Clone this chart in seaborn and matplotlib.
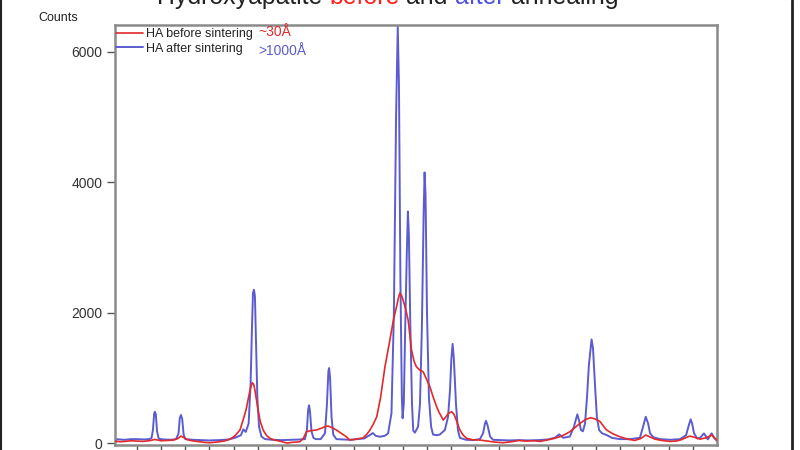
import matplotlib
matplotlib.use("Agg")
import matplotlib.pyplot as plt
from matplotlib.lines import Line2D
import pandas as pd
import seaborn as sns

# ---------------- data ----------------
series_names = ["HA before sintering", "HA after sintering"]
size_notes = ["~30Å", ">1000Å"]

before_theta = [20.09, 20.3, 20.5, 20.75, 21.0, 21.25, 21.5, 21.74, 22.0, 22.25, 22.5,
                22.7, 22.82, 22.95, 23.1, 23.35, 23.6, 23.8, 24.0, 24.3, 24.6, 24.85,
                25.05, 25.26, 25.39, 25.52, 25.62, 25.7, 25.77, 25.83, 25.88, 25.95,
                26.01, 26.1, 26.22, 26.35, 26.5, 26.7, 26.96, 27.1, 27.22, 27.4, 27.55,
                27.74, 27.88, 28.01, 28.2, 28.43, 28.65, 28.8, 28.91, 29.05, 29.25,
                29.45, 29.66, 29.81, 30.0, 30.2, 30.35, 30.5, 30.64, 30.78, 30.92,
                31.08, 31.26, 31.45, 31.61, 31.74, 31.82, 31.88, 31.95, 32.01, 32.1,
                32.22, 32.36, 32.46, 32.56, 32.7, 32.84, 32.98, 33.12, 33.26, 33.4,
                33.5, 33.6, 33.67, 33.78, 33.88, 34.02, 34.1, 34.16, 34.26, 34.36,
                34.5, 34.64, 34.9, 35.19, 35.5, 35.8, 36.14, 36.5, 36.8, 37.1, 37.4,
                37.7, 38.0, 38.25, 38.5, 38.7, 38.91, 39.1, 39.33, 39.55, 39.77, 39.95,
                40.16, 40.3, 40.43, 40.7, 40.98, 41.3, 41.6, 41.85, 42.05, 42.25,
                42.43, 42.7, 43.06, 43.3, 43.47, 43.7, 43.88, 44.05, 44.3, 44.55,
                44.78, 44.99]
before_counts = [30, 20, 25, 35, 30, 25, 35, 55, 35, 40, 45,
                 70, 107, 80, 50, 30, 20, 10, 5, 15, 30, 60,
                 110, 200, 350, 520, 710, 850, 925, 900, 812, 650,
                 506, 330, 200, 120, 72, 45, 25, 10, 0, 10, 15,
                 20, 70, 173, 190, 200, 230, 255, 260, 240, 200,
                 150, 97, 46, 55, 70, 77, 130, 200, 290, 403,
                 700, 1170, 1550, 1886, 2090, 2230, 2300, 2260, 2192, 2080,
                 1886, 1426, 1260, 1170, 1120, 1093, 980, 863, 700, 557,
                 470, 403, 352, 400, 455, 480, 450, 403, 300, 200,
                 120, 72, 50, 46, 30, 15, 5, 20, 40, 30, 35,
                 25, 50, 70, 97, 130, 173, 230, 300, 360, 388, 370,
                 330, 260, 200, 140, 97, 60, 40, 70, 123, 90,
                 60, 40, 25, 30, 45, 80, 107, 90, 60, 80,
                 123, 46]

after_theta = [20.09, 20.3, 20.5, 20.75, 21.0, 21.3, 21.5, 21.6, 21.66, 21.71, 21.74,
               21.78, 21.83, 21.9, 22.1, 22.4, 22.62, 22.72, 22.77, 22.82, 22.87,
               22.93, 23.0, 23.3, 23.6, 24.0, 24.4, 24.8, 25.05, 25.3, 25.4, 25.5,
               25.62, 25.7, 25.76, 25.8, 25.84, 25.88, 25.93, 25.98, 26.05, 26.15,
               26.3, 26.6, 27.0, 27.4, 27.8, 27.95, 28.03, 28.08, 28.12, 28.16,
               28.22, 28.3, 28.4, 28.6, 28.78, 28.86, 28.92, 28.95, 28.99, 29.05,
               29.12, 29.25, 29.5, 29.8, 30.1, 30.4, 30.64, 30.76, 30.88, 31.05,
               31.25, 31.39, 31.53, 31.63, 31.72, 31.79, 31.84, 31.9, 31.96, 31.99,
               32.04, 32.1, 32.17, 32.21, 32.25, 32.31, 32.38, 32.43, 32.5, 32.63,
               32.71, 32.79, 32.86, 32.9, 32.94, 33.0, 33.08, 33.17, 33.25, 33.4,
               33.53, 33.74, 33.87, 33.95, 34.01, 34.06, 34.11, 34.2, 34.28, 34.36,
               34.61, 34.9, 35.19, 35.32, 35.4, 35.44, 35.5, 35.61, 35.73, 36.02,
               36.4, 36.8, 37.2, 37.6, 38.0, 38.29, 38.47, 38.64, 38.91, 39.08,
               39.22, 39.29, 39.37, 39.45, 39.54, 39.62, 39.7, 39.81, 39.87, 39.95,
               40.03, 40.12, 40.24, 40.43, 40.65, 40.98, 41.4, 41.81, 41.94, 42.05,
               42.15, 42.23, 42.36, 42.64, 43.06, 43.47, 43.72, 43.84, 43.91, 43.97,
               44.05, 44.18, 44.3, 44.46, 44.62, 44.78, 44.88, 44.98]
after_counts = [60, 55, 50, 60, 60, 55, 60, 75, 200, 450, 480,
                440, 180, 65, 55, 50, 60, 150, 380, 430, 370,
                130, 60, 50, 45, 40, 45, 55, 80, 120, 210, 170,
                300, 900, 1800, 2300, 2350, 2250, 1500, 700, 250, 100,
                60, 50, 45, 50, 55, 60, 200, 500, 580, 480,
                180, 80, 60, 60, 150, 600, 1100, 1150, 1000, 400,
                130, 60, 55, 50, 60, 70, 123, 153, 110, 97,
                110, 148, 455, 1993, 5000, 6380, 5500, 2500, 700, 380,
                600, 1800, 3000, 3550, 3200, 1800, 600, 190, 160, 250,
                600, 1800, 3500, 4150, 3800, 2000, 700, 250, 130, 120,
                130, 200, 400, 800, 1300, 1520, 1300, 600, 200, 80,
                50, 45, 60, 150, 300, 340, 280, 100, 50, 45,
                40, 45, 40, 45, 55, 80, 133, 80, 100, 250,
                440, 350, 200, 180, 300, 700, 1200, 1590, 1450, 900,
                400, 200, 150, 123, 80, 60, 60, 80, 250, 403,
                300, 150, 90, 60, 50, 60, 120, 280, 363, 300,
                150, 70, 80, 148, 57, 148, 80, 40]

x_ticks = list(range(21, 45))
y_ticks = [0, 2000, 4000, 6000]
title_words = ["Hydroxyapatite", "before", "and", "after", "annealing"]

# ---------------- styling ----------------
RED = "#e2292b"
BLUE = "#5c5cd0"

sns.set_style("white")
plt.rcParams["font.family"] = ["Liberation Sans", "DejaVu Sans"]

df = pd.concat([
    pd.DataFrame({"two_theta": before_theta, "counts": before_counts, "series": series_names[0]}),
    pd.DataFrame({"two_theta": after_theta, "counts": after_counts, "series": series_names[1]}),
], ignore_index=True)

fig = plt.figure(figsize=(8, 4.5), dpi=100)
ax = fig.add_axes([115 / 800, 1 - 445 / 450, 602 / 800, 420 / 450])

sns.lineplot(data=df, x="two_theta", y="counts", hue="series",
             hue_order=series_names, palette=[RED, BLUE],
             estimator=None, sort=False, legend=False, ax=ax)

red_line, blue_line = ax.lines[0], ax.lines[1]
red_line.set_linewidth(1.2)
red_line.set_zorder(3)
blue_line.set_linewidth(1.4)
blue_line.set_zorder(2)

ax.set_xlim(20.09, 45.0)
ax.set_ylim(-30, 6410)
ax.set_xticks(x_ticks)
ax.set_xticklabels([])
ax.set_yticks(y_ticks)
ax.set_yticklabels([str(v) for v in y_ticks])
ax.set_xlabel("")
ax.set_ylabel("")

for sp in ax.spines.values():
    sp.set_color("#8a8a8a")
    sp.set_linewidth(1.8)

ax.tick_params(axis="y", which="major", left=True, length=6, width=1.0,
               color="#555555", pad=3, labelsize=10, labelcolor="#333333")
ax.tick_params(axis="x", which="major", bottom=True, length=8, width=1.0,
               color="#555555")

leg = ax.legend(handles=[red_line, blue_line], labels=series_names,
                loc="upper left", bbox_to_anchor=(0, 1 - 2 / 420), frameon=False,
                fontsize=9, handlelength=2.1, handletextpad=0.3,
                borderaxespad=0, borderpad=0.1, labelspacing=0.2)
for t in leg.get_texts():
    t.set_color("#222222")

fig.text(258 / 800, 1 - 36 / 450, size_notes[0], color=RED, fontsize=10,
         va="baseline", ha="left")
fig.text(258 / 800, 1 - 55 / 450, size_notes[1], color=BLUE, fontsize=10,
         va="baseline", ha="left")

fig.text(38 / 800, 1 - 21 / 450, "Counts", fontsize=9, color="#222222",
         va="baseline", ha="left")

# title: partially cut by the top edge, words coloured and chained
title_colors = ["#222222", "#ff2020", "#222222", "#5050e0", "#222222"]
fig.canvas.draw()
rend = fig.canvas.get_renderer()


def text_width(s, fs):
    t = fig.text(0, 0.5, s, fontsize=fs)
    w = t.get_window_extent(rend).width
    t.remove()
    return w


base_fs = 18
space_w = text_width("a a", base_fs) - text_width("aa", base_fs)
total = sum(text_width(w, base_fs) for w in title_words) + space_w * (len(title_words) - 1)
fs = base_fs * 463 / total
space_w = space_w * fs / base_fs
xp = 157.0
for w, c in zip(title_words, title_colors):
    t = fig.text(xp / 800, 1 - 4 / 450, w, fontsize=fs, color=c,
                 va="baseline", ha="left")
    xp += t.get_window_extent(rend).width + space_w

# slide frame edges
fig.add_artist(Line2D([1 / 800, 1 / 800], [0, 1], color="#222222", lw=1.5,
                      transform=fig.transFigure))
fig.add_artist(Line2D([792 / 800, 792 / 800], [0, 1], color="#222222", lw=2.0,
                      transform=fig.transFigure))

fig.savefig("out.png", dpi=100)
